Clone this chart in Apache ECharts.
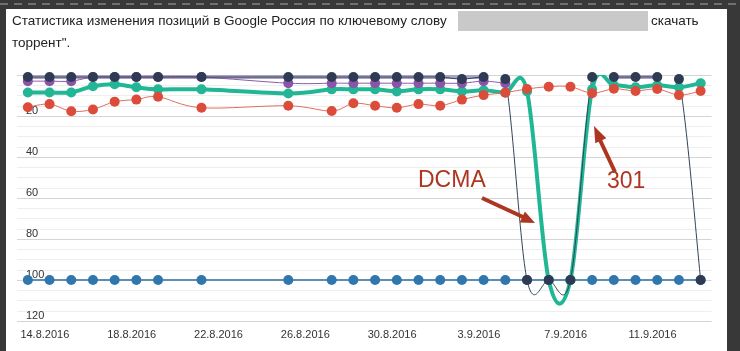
<!DOCTYPE html>
<html>
<head>
<meta charset="utf-8">
<script src="https://cdn.jsdelivr.net/npm/echarts@6/dist/echarts.min.js"></script>
<style>
html, body { margin: 0; padding: 0; background: #fff; }
#chart-container { width: 740px; height: 351px; }
</style>
</head>
<body>
<div id="chart-container"></div>
<script>
var dom = document.getElementById('chart-container');
var myChart = echarts.init(dom, null, { renderer: 'canvas' });

// days on the x axis, one per category
var days = ['14.8.2016', '15.8.2016', '16.8.2016', '17.8.2016', '18.8.2016', '19.8.2016', '20.8.2016', '21.8.2016',
  '22.8.2016', '23.8.2016', '24.8.2016', '25.8.2016', '26.8.2016', '27.8.2016', '28.8.2016', '29.8.2016',
  '30.8.2016', '31.8.2016', '1.9.2016', '2.9.2016', '3.9.2016', '4.9.2016', '5.9.2016', '6.9.2016',
  '7.9.2016', '8.9.2016', '9.9.2016', '10.9.2016', '11.9.2016', '12.9.2016', '13.9.2016', '14.9.2016'];

// positions per day (null = no check that day)
var posNavy   = [1, 1, 1, 1, 1, 1, 1, null, 1, null, null, null, 1, null, 1, 1, 1, 1, 1, 1, 2, 1, 2, 100, 100, 100, 1, 1, 1, 1, 2, 100];
var posPurple = [3, 3, 3, 1, 1, 1, 1, null, 1, null, null, null, 4, null, 4, 4, 4, 4, 4, 4, 4, 3, 4, null, null, null, null, null, null, null, null, null];
var posTeal   = [8.5, 8.5, 8.5, 5.5, 4.5, 6, 7, null, 7, null, null, null, 9, null, 7, 7, 7, 8, 7, 7, 8, 7.5, 8.5, 8, 100, 100, 7, 5, 6, 5, 6, 4];
var posRed    = [15.7, 14.2, 17.7, 16.8, 13, 12, 10.6, null, 16, null, null, null, 15, null, 17.6, 13.8, 15, 16, 14.2, 15, 12, 9.8, 8.6, 6.8, 5.7, 5.7, 8.9, 6.7, 7.8, 6.8, 9.8, 7.8];
var posBlue   = [100, 100, 100, 100, 100, 100, 100, null, 100, null, null, null, 100, null, 100, 100, 100, 100, 100, 100, 100, 100, 100, 100, 100, 100, 100, 100, 100, 100, 100, 100];
var posGrayA  = [0.7, 0.7, 0.7, 0.7, 0.7, 0.7, 0.7, null, 0.7, null, null, null, 0.7, null, 0.7, 0.7, 0.7, 0.7, 0.7, 0.7, 0.7, 0.7, null, null, null, null, null, null, null, null, null, null];
var posGrayB  = [null, null, null, null, null, null, null, null, null, null, null, null, null, null, null, null, null, null, null, null, null, null, null, null, null, null, null, 0.7, 0.7, 0.7, null, null];

function points(values) {
  var out = [];
  values.forEach(function (v, i) { if (v != null) out.push([i, v]); });
  return out;
}

// curve through the points (catmull-rom), clipped to the plot area
function curve(name, values, color, width) {
  var pts = points(values);
  return {
    type: 'custom',
    name: name,
    data: pts,
    silent: true,
    renderItem: function (params, api) {
      if (params.dataIndex !== 0) return null;
      var p = pts.map(function (d) { return api.coord(d); });
      var children = [];
      for (var i = 0; i < p.length - 1; i++) {
        var p0 = p[i - 1] || p[i], p1 = p[i], p2 = p[i + 1], p3 = p[i + 2] || p[i + 1];
        children.push({
          type: 'bezierCurve',
          shape: {
            x1: p1[0], y1: p1[1],
            cpx1: p1[0] + (p2[0] - p0[0]) / 6, cpy1: p1[1] + (p2[1] - p0[1]) / 6,
            cpx2: p2[0] - (p3[0] - p1[0]) / 6, cpy2: p2[1] - (p3[1] - p1[1]) / 6,
            x2: p2[0], y2: p2[1]
          },
          style: { stroke: color, lineWidth: width, fill: 'none', lineCap: 'round' }
        });
      }
      var cs = params.coordSys;
      return {
        type: 'group',
        children: children,
        clipPath: { type: 'rect', shape: { x: cs.x, y: cs.y, width: cs.width, height: cs.height } }
      };
    }
  };
}

function dots(name, values, color) {
  return {
    type: 'scatter',
    name: name,
    data: points(values),
    symbolSize: 10,
    silent: true,
    itemStyle: { color: color, opacity: 1 }
  };
}

var darkRed = '#ad3620';

var option = {
  animation: false,
  backgroundColor: '#fff',
  grid: { left: 17, right: 28.5, top: 75, bottom: 30, containLabel: false },
  xAxis: {
    type: 'category',
    data: days,
    boundaryGap: true,
    axisLine: { show: false, onZero: false },
    axisTick: { show: false },
    splitLine: { show: false },
    axisLabel: {
      interval: 3,
      padding: [0, 0, 0, 34],
      margin: 8,
      color: '#333',
      fontSize: 11,
      fontFamily: 'Liberation Sans'
    }
  },
  yAxis: {
    type: 'value',
    inverse: true,
    min: 0,
    max: 120,
    interval: 20,
    axisLine: { show: false },
    axisTick: { show: false },
    axisLabel: {
      inside: true,
      showMinLabel: false,
      verticalAlign: 'bottom',
      margin: 9,
      color: '#333',
      fontSize: 11,
      fontFamily: 'Liberation Sans'
    },
    splitLine: { lineStyle: { color: '#d4d4d4' } },
    minorTick: { show: false, splitNumber: 4 },
    minorSplitLine: { show: true, lineStyle: { color: '#eeeeee' } }
  },
  series: [
    curve('grayA', posGrayA, '#a9a4c3', 5),
    curve('grayB', posGrayB, '#a9a4c3', 5),
    curve('blue', posBlue, '#5b8fb6', 2),
    curve('teal', posTeal, '#21b795', 4),
    curve('red', posRed, '#e0705f', 1),
    curve('purple', posPurple, '#8e5aa8', 1),
    curve('navy', posNavy, '#34435a', 1),
    dots('blue', posBlue, '#2f77ac'),
    dots('teal', posTeal, '#22b696'),
    dots('red', posRed, '#dc4c3a'),
    dots('purple', posPurple, '#8a55a8'),
    dots('navy', posNavy, '#2f3b55')
  ],
  graphic: [
    { type: 'rect', shape: { x: 0, y: 0, width: 740, height: 9 }, style: { fill: '#383838' }, z: 100 },
    { type: 'line', shape: { x1: 0, y1: 4, x2: 740, y2: 4 }, style: { stroke: '#707070', lineWidth: 2, lineDash: [8, 6] }, z: 101 },
    { type: 'rect', shape: { x: 0, y: 0, width: 6, height: 351 }, style: { fill: '#383838' }, z: 100 },
    { type: 'rect', shape: { x: 727, y: 0, width: 13, height: 351 }, style: { fill: '#383838' }, z: 100 },
    {
      type: 'text', x: 12, y: 21, z: 100,
      style: { text: 'Статистика изменения позиций в Google Россия по ключевому слову', fill: '#222', font: '13.5px "Liberation Sans"', verticalAlign: 'middle' }
    },
    { type: 'rect', shape: { x: 458, y: 11, width: 190, height: 20 }, style: { fill: '#c9c9c9' }, z: 100 },
    {
      type: 'text', x: 651, y: 21, z: 100,
      style: { text: 'скачать', fill: '#222', font: '13.5px "Liberation Sans"', verticalAlign: 'middle' }
    },
    {
      type: 'text', x: 12, y: 43, z: 100,
      style: { text: 'торрент".', fill: '#222', font: '13.5px "Liberation Sans"', verticalAlign: 'middle' }
    },
    {
      type: 'text', x: 418, y: 181, z: 110,
      style: { text: 'DCMA', fill: darkRed, font: '23px "Liberation Sans"', verticalAlign: 'middle' }
    },
    { type: 'polyline', shape: { points: [[482, 198], [523, 217]] }, style: { stroke: darkRed, lineWidth: 4 }, z: 110 },
    { type: 'polygon', shape: { points: [[535, 223], [519.7, 222.4], [524.9, 211.6]] }, style: { fill: darkRed }, z: 110 },
    {
      type: 'text', x: 607, y: 182, z: 110,
      style: { text: '301', fill: darkRed, font: '23px "Liberation Sans"', verticalAlign: 'middle' }
    },
    { type: 'polyline', shape: { points: [[615, 172], [600, 140]] }, style: { stroke: darkRed, lineWidth: 4 }, z: 110 },
    { type: 'polygon', shape: { points: [[594, 126], [606.3, 138.3], [595.3, 143.3]] }, style: { fill: darkRed }, z: 110 }
  ]
};

if (option && typeof option === 'object') {
  myChart.setOption(option);
}

window.addEventListener('resize', myChart.resize);
</script>
</body>
</html>
